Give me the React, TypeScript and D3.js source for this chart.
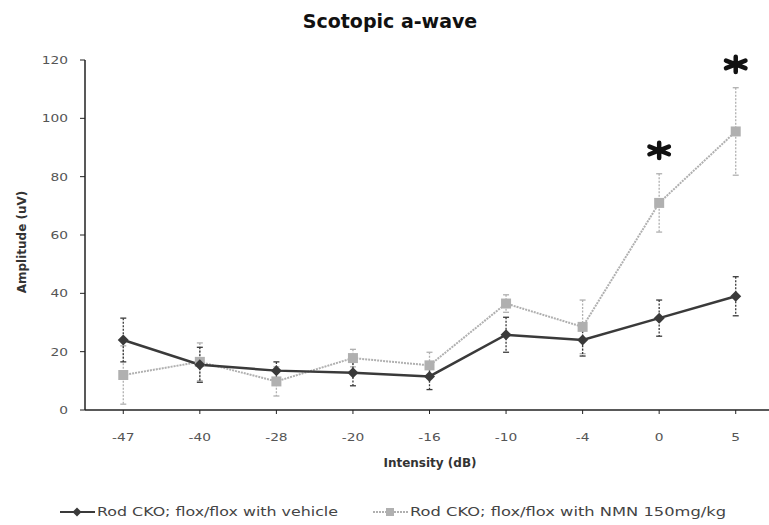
import React from "react";
import * as d3 from "d3";

const categories = ["-47", "-40", "-28", "-20", "-16", "-10", "-4", "0", "5"];
const vehicleValues = [24, 15.5, 13.5, 12.8, 11.5, 25.8, 24, 31.5, 39];
const vehicleErrors = [7.5, 6, 3, 4.5, 4.5, 6, 5.5, 6.2, 6.7];
const nmnValues = [12, 16.5, 9.8, 17.8, 15.3, 36.5, 28.5, 71, 95.5];
const nmnErrors = [10, 6.5, 5, 3, 4.5, 3, 9.2, 10, 15];
const yTicks = [0, 20, 40, 60, 80, 100, 120];
const starCategories = ["0", "5"];
const starLevels = [89, 118.5];

const W = 769;
const H = 525;
const left = 85;
const right = 774;
const top = 60;
const bottom = 410;

export default function App() {
  const x = d3.scaleBand<string>().domain(categories).range([left, right]);
  const y = d3.scaleLinear().domain([0, 120]).range([bottom, top]);
  const cx = (c: string) => (x(c) as number) + x.bandwidth() / 2;

  const line = d3
    .line<number>()
    .x((_, i) => cx(categories[i]))
    .y((d) => y(d));

  const vColor = "#3a3a3a";
  const nColor = "#b0b0b0";
  const font = "'DejaVu Sans', Verdana, sans-serif";
  const sx = 1.25;

  const diamond = (px: number, py: number, s: number) =>
    `M${px},${py - s}L${px + s},${py}L${px},${py + s}L${px - s},${py}Z`;

  const star = (px: number, py: number, r: number) =>
    [90, 30, 150]
      .map((a) => {
        const rad = (a * Math.PI) / 180;
        const dx = r * 1.25 * Math.cos(rad);
        const dy = r * 0.85 * Math.sin(rad);
        return `M${px - dx},${py - dy}L${px + dx},${py + dy}`;
      })
      .join("");

  const errorBars = (vals: number[], errs: number[], color: string, key: string) =>
    vals.map((v, i) => {
      const px = cx(categories[i]);
      return (
        <g key={key + i} stroke={color} strokeWidth={1.3}>
          <line x1={px} x2={px} y1={y(v + errs[i])} y2={y(v - errs[i])} strokeDasharray="2,1.5" />
          <line x1={px - 3} x2={px + 3} y1={y(v + errs[i])} y2={y(v + errs[i])} />
          <line x1={px - 3} x2={px + 3} y1={y(v - errs[i])} y2={y(v - errs[i])} />
        </g>
      );
    });

  return (
    <svg width={W} height={H} style={{ position: "absolute", left: 0, top: 0, background: "#fff" }} fontFamily={font}>
      <rect width={W} height={H} fill="#fff" />
      <text x={390} y={28} textAnchor="middle" fontSize={19} fontWeight="bold" fill="#111">
        Scotopic a-wave
      </text>

      {/* y axis */}
      <line x1={left} x2={left} y1={top} y2={bottom} stroke="#222" strokeWidth={1.5} />
      {yTicks.map((t) => (
        <g key={"y" + t}>
          <line x1={left - 5} x2={left} y1={y(t)} y2={y(t)} stroke="#222" strokeWidth={1} />
          <text
            transform={`translate(68,${y(t) + 4}) scale(${sx},1)`}
            textAnchor="end"
            fontSize={11}
            fill="#555"
          >
            {t}
          </text>
        </g>
      ))}
      <text
        transform={`translate(26,${(top + bottom) / 2 + 7}) rotate(-90)`}
        textAnchor="middle"
        fontSize={12}
        fontWeight="bold"
        fill="#333"
      >
        Amplitude (uV)
      </text>

      {/* x axis */}
      <line x1={left} x2={right} y1={bottom} y2={bottom} stroke="#222" strokeWidth={1.5} />
      {categories.map((c) => (
        <g key={"x" + c}>
          <line x1={cx(c)} x2={cx(c)} y1={bottom} y2={bottom + 4} stroke="#222" strokeWidth={1} />
          <text
            transform={`translate(${cx(c)},${bottom + 31}) scale(${sx},1)`}
            textAnchor="middle"
            fontSize={11}
            fill="#555"
          >
            {c}
          </text>
        </g>
      ))}
      <text x={430} y={467} textAnchor="middle" fontSize={12} fontWeight="bold" fill="#333">
        Intensity (dB)
      </text>

      {/* error bars */}
      {errorBars(nmnValues, nmnErrors, nColor, "ne")}
      {errorBars(vehicleValues, vehicleErrors, vColor, "ve")}

      {/* lines */}
      <path d={line(nmnValues) || ""} fill="none" stroke={nColor} strokeWidth={2} strokeDasharray="2,1" />
      <path d={line(vehicleValues) || ""} fill="none" stroke={vColor} strokeWidth={2.5} />

      {nmnValues.map((v, i) => (
        <rect key={"nm" + i} x={cx(categories[i]) - 5} y={y(v) - 5} width={10} height={10} fill={nColor} />
      ))}
      {vehicleValues.map((v, i) => (
        <path key={"vm" + i} d={diamond(cx(categories[i]), y(v), 5.5)} fill={vColor} />
      ))}

      {/* significance asterisks */}
      {starCategories.map((c, i) => (
        <path
          key={"s" + c}
          d={star(cx(c), y(starLevels[i]), 9)}
          stroke="#111"
          strokeWidth={4.5}
          strokeLinecap="round"
        />
      ))}

      {/* legend */}
      <g>
        <line x1={60} x2={95} y1={512} y2={512} stroke={vColor} strokeWidth={2} />
        <path d={diamond(77, 512, 4.5)} fill={vColor} />
        <text x={97} y={516} fontSize={12} fill="#444" textLength={241} lengthAdjust="spacingAndGlyphs">
          Rod CKO; flox/flox with vehicle
        </text>
        <line x1={373} x2={408} y1={512} y2={512} stroke={nColor} strokeWidth={2} strokeDasharray="2,1" />
        <rect x={386} y={508} width={8} height={8} fill={nColor} />
        <text x={410} y={516} fontSize={12} fill="#444" textLength={316} lengthAdjust="spacingAndGlyphs">
          Rod CKO; flox/flox with NMN 150mg/kg
        </text>
      </g>
    </svg>
  );
}
